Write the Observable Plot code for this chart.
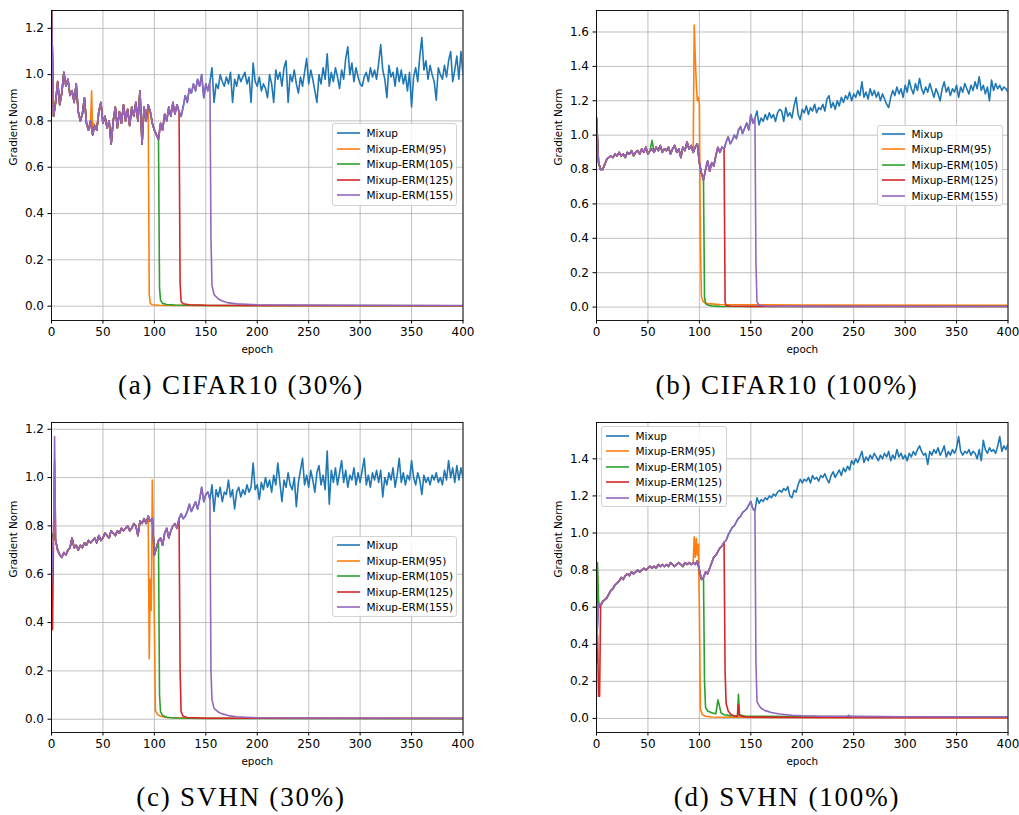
<!DOCTYPE html>
<html><head><meta charset="utf-8">
<script src="https://cdn.jsdelivr.net/npm/d3@7"></script>
<script src="https://cdn.jsdelivr.net/npm/@observablehq/plot@0.6"></script>
<style>
body{margin:0;background:#fff;}
#root{position:relative;width:1019px;height:815px;overflow:hidden;background:#fff;}
.panel{position:absolute;}
.legend{position:absolute;box-sizing:border-box;border:1px solid #d3d3d3;border-radius:3px;background:rgba(255,255,255,0.85);font-family:"DejaVu Sans",sans-serif;font-size:10.5px;color:#000;}
.sw{position:absolute;left:3.5px;width:23px;height:6px;overflow:visible;}
.lt{position:absolute;left:33.5px;line-height:12px;white-space:nowrap;}
.caption{position:absolute;font-family:"Liberation Serif",serif;font-size:27px;line-height:27px;text-align:center;letter-spacing:1.8px;white-space:nowrap;color:#000;}
</style>
</head><body><div id="root"></div>
<script>
const epochStep = 2;
const seriesNames = ["Mixup","Mixup-ERM(95)","Mixup-ERM(105)","Mixup-ERM(125)","Mixup-ERM(155)"];
const seriesColors = ["#1f77b4","#ff7f0e","#2ca02c","#d62728","#9467bd"];
const switchEpochs = [95,105,125,155];
const xTicks = [0,50,100,150,200,250,300,350,400];
const yTicksAC = [0,0.2,0.4,0.6,0.8,1.0,1.2];
const yTicksB = [0,0.2,0.4,0.6,0.8,1.0,1.2,1.4,1.6];
const yTicksD = [0,0.2,0.4,0.6,0.8,1.0,1.2,1.4];
const captions = ["(a) CIFAR10 (30%)","(b) CIFAR10 (100%)","(c) SVHN (30%)","(d) SVHN (100%)"];

// Mixup gradient norm, epochs 0,2,...,400
const mixupA = [1.30,0.82,0.88,0.97,0.87,0.92,1.01,0.95,0.98,0.91,
0.93,0.88,0.96,0.84,0.80,0.83,0.90,0.79,0.76,0.80,
0.74,0.78,0.76,0.84,0.88,0.79,0.82,0.77,0.80,0.70,
0.80,0.86,0.77,0.84,0.79,0.87,0.80,0.85,0.78,0.86,
0.82,0.88,0.80,0.93,0.70,0.86,0.80,0.87,0.84,0.79,
0.76,0.74,0.72,0.79,0.76,0.83,0.80,0.86,0.82,0.88,
0.83,0.87,0.84,0.82,0.86,0.91,0.88,0.94,0.92,0.96,
0.93,0.98,0.95,1.00,0.90,0.96,0.93,0.97,1.03,0.88,
0.96,0.94,1.00,0.97,0.95,0.99,0.96,1.01,0.88,0.98,
0.95,1.00,0.97,0.99,1.01,0.96,0.99,0.88,1.05,0.97,
0.95,0.99,0.93,0.96,0.94,0.90,1.00,0.96,0.88,1.02,
0.98,1.01,0.95,1.03,1.06,0.88,1.00,0.97,1.02,0.96,
0.92,0.99,0.95,1.01,1.07,0.96,1.02,0.98,0.93,0.88,
1.00,0.96,1.03,0.98,1.09,0.95,1.01,0.97,1.03,0.99,
0.94,1.02,0.98,1.07,1.12,1.00,1.05,0.97,1.03,0.99,
0.96,0.95,0.99,1.01,0.97,1.03,0.99,1.02,0.98,1.05,
1.13,1.02,0.98,0.90,1.04,0.99,1.01,0.95,1.03,0.97,
1.02,0.96,1.00,0.93,1.01,0.86,0.99,1.03,0.97,1.08,
1.16,1.02,1.06,0.98,1.04,1.00,0.97,0.89,1.03,1.00,
0.98,1.04,0.99,1.06,1.10,0.97,1.02,1.08,0.98,1.10,
1.00];
const mixupB = [1.10,0.84,0.80,0.80,0.83,0.86,0.87,0.88,0.87,0.89,
0.88,0.90,0.88,0.89,0.87,0.90,0.89,0.91,0.88,0.90,
0.91,0.89,0.92,0.90,0.93,0.89,0.91,0.92,0.90,0.93,
0.91,0.94,0.90,0.92,0.91,0.93,0.89,0.92,0.94,0.90,
0.92,0.87,0.93,0.91,0.96,0.92,0.94,0.90,0.93,0.95,
0.84,0.78,0.74,0.80,0.85,0.79,0.84,0.82,0.88,0.93,
0.90,0.93,0.92,0.96,0.99,0.95,0.97,1.00,0.98,1.03,
1.05,1.01,1.04,1.07,1.03,1.12,1.07,1.10,1.14,1.06,
1.10,1.08,1.12,1.09,1.13,1.10,1.12,1.08,1.13,1.15,
1.14,1.08,1.16,1.11,1.13,1.10,1.17,1.22,1.12,1.09,
1.15,1.13,1.17,1.12,1.16,1.14,1.18,1.13,1.16,1.15,
1.18,1.14,1.21,1.23,1.16,1.19,1.15,1.20,1.17,1.22,
1.19,1.23,1.21,1.25,1.20,1.24,1.22,1.26,1.23,1.31,
1.22,1.25,1.21,1.27,1.23,1.26,1.22,1.25,1.20,1.24,
1.21,1.18,1.16,1.22,1.26,1.23,1.28,1.24,1.27,1.22,
1.29,1.25,1.32,1.27,1.24,1.30,1.26,1.33,1.27,1.24,
1.28,1.25,1.30,1.26,1.22,1.27,1.24,1.20,1.27,1.31,
1.25,1.28,1.23,1.27,1.25,1.29,1.22,1.28,1.25,1.30,
1.27,1.24,1.29,1.26,1.31,1.27,1.34,1.26,1.29,1.24,
1.28,1.20,1.32,1.26,1.30,1.27,1.29,1.26,1.28,1.27,
1.25];
const mixupC = [0.75,0.77,0.74,0.70,0.68,0.67,0.69,0.68,0.70,0.71,
0.75,0.71,0.72,0.70,0.72,0.71,0.73,0.72,0.74,0.73,
0.74,0.75,0.73,0.76,0.74,0.75,0.77,0.76,0.75,0.78,
0.77,0.76,0.78,0.77,0.79,0.78,0.79,0.80,0.78,0.79,
0.81,0.80,0.76,0.82,0.81,0.83,0.81,0.84,0.82,0.83,
0.68,0.71,0.74,0.75,0.72,0.77,0.79,0.75,0.78,0.80,
0.81,0.79,0.83,0.85,0.83,0.84,0.86,0.89,0.86,0.88,
0.90,0.87,0.91,0.96,0.90,0.93,0.94,0.91,0.97,0.86,
0.95,0.92,0.96,0.90,0.94,0.93,0.99,0.92,0.95,0.87,
0.94,0.96,0.92,0.95,0.93,0.97,0.94,0.96,1.06,0.95,
0.97,0.91,0.98,0.95,1.00,0.96,0.99,0.94,1.01,0.97,
1.06,0.98,0.90,0.99,0.96,1.02,0.97,0.95,1.00,0.88,
0.98,1.03,1.08,0.97,1.01,0.96,1.03,0.99,0.94,1.02,
1.05,0.97,1.01,0.95,1.11,0.89,1.03,0.98,1.04,0.97,
1.02,1.07,0.98,1.03,0.96,1.01,0.99,1.04,0.97,1.02,
0.98,1.03,1.08,0.97,1.01,0.96,1.02,0.99,1.03,0.98,
1.03,0.92,1.00,0.97,1.02,0.99,1.04,0.96,1.01,1.08,
0.98,1.02,0.97,1.01,0.99,1.07,1.00,0.97,1.02,0.99,
0.93,1.01,0.98,1.00,0.97,1.01,0.99,1.02,0.98,1.00,
0.97,1.03,0.99,1.07,1.00,1.04,0.98,1.05,0.99,1.04,
1.00];
const mixupD = [0.40,0.62,0.61,0.63,0.64,0.65,0.67,0.69,0.70,0.72,
0.73,0.74,0.76,0.75,0.77,0.78,0.77,0.79,0.78,0.79,
0.80,0.79,0.80,0.81,0.80,0.81,0.82,0.81,0.82,0.81,
0.83,0.82,0.83,0.82,0.83,0.82,0.84,0.83,0.82,0.83,
0.84,0.83,0.82,0.84,0.83,0.84,0.83,0.84,0.83,0.85,
0.80,0.75,0.76,0.79,0.78,0.81,0.84,0.87,0.88,0.90,
0.92,0.93,0.95,0.96,0.99,1.01,1.03,1.04,1.06,1.08,
1.09,1.11,1.12,1.13,1.15,1.17,1.13,1.12,1.19,1.16,
1.18,1.17,1.19,1.18,1.20,1.19,1.21,1.20,1.22,1.23,
1.22,1.24,1.23,1.25,1.20,1.19,1.23,1.22,1.26,1.29,
1.27,1.29,1.28,1.30,1.27,1.31,1.29,1.30,1.28,1.31,
1.30,1.32,1.29,1.27,1.31,1.33,1.30,1.32,1.34,1.31,
1.35,1.33,1.36,1.34,1.39,1.37,1.40,1.38,1.41,1.44,
1.38,1.41,1.39,1.42,1.40,1.43,1.41,1.39,1.42,1.40,
1.43,1.41,1.44,1.39,1.42,1.40,1.45,1.41,1.43,1.40,
1.42,1.39,1.43,1.41,1.44,1.42,1.45,1.47,1.44,1.42,
1.43,1.37,1.44,1.42,1.45,1.43,1.46,1.42,1.44,1.47,
1.41,1.44,1.42,1.45,1.43,1.46,1.52,1.44,1.42,1.44,
1.43,1.45,1.42,1.44,1.43,1.40,1.45,1.39,1.50,1.45,
1.43,1.46,1.44,1.45,1.43,1.47,1.52,1.44,1.47,1.45,
1.48];

// Mixup-ERM runs: own [epoch, value] points (deviations from Mixup and everything after the switch)
const ermA95 = [[39,0.93],[41,0.79],[95,0.05],[96,0.012],[98,0.006],[104,0.004],[130,0.003],[200,0.002],[400,0.002]];
const ermA105 = [[105,0.08],[106,0.025],[108,0.012],[112,0.007],[120,0.005],[150,0.003],[400,0.002]];
const ermA125 = [[125,0.10],[126,0.02],[128,0.01],[134,0.006],[150,0.004],[200,0.003],[400,0.002]];
const ermA155 = [[155,0.30],[156,0.09],[158,0.05],[162,0.032],[166,0.022],[172,0.014],[180,0.01],[190,0.008],[200,0.006],[230,0.005],[300,0.004],[400,0.003]];

const ermB95 = [[95,1.64],[96,1.45],[97,1.30],[98,1.20],[99,1.22],[100,1.18],[101,0.35],[102,0.06],[104,0.03],[108,0.02],[120,0.015],[200,0.012],[400,0.011]];
const ermB105 = [[54,0.97],[105,0.06],[106,0.02],[108,0.012],[112,0.007],[120,0.004],[200,0.003],[400,0.003]];
const ermB125 = [[125,0.03],[126,0.01],[130,0.006],[150,0.004],[400,0.003]];
const ermB155 = [[155,0.25],[156,0.03],[158,0.012],[165,0.006],[200,0.004],[400,0.003]];

const ermC95 = [[95,0.25],[96,0.58],[97,0.45],[98,0.99],[99,0.75],[100,0.40],[101,0.035],[103,0.02],[106,0.012],[112,0.007],[130,0.005],[200,0.004],[400,0.004]];
const ermC105 = [[105,0.10],[106,0.03],[108,0.015],[112,0.008],[120,0.005],[150,0.003],[400,0.002]];
const ermC125 = [[1,0.37],[3,1.07],[125,0.20],[126,0.03],[128,0.012],[132,0.007],[150,0.004],[400,0.003]];
const ermC155 = [[0,0.55],[3,1.17],[155,0.20],[156,0.08],[158,0.045],[162,0.03],[166,0.022],[172,0.015],[180,0.01],[190,0.008],[200,0.006],[250,0.005],[400,0.004]];

const ermD95 = [[0,0.35],[1,0.77],[3,0.62],[95,0.98],[96,0.87],[97,0.97],[98,0.88],[99,0.94],[100,0.60],[101,0.05],[103,0.02],[106,0.012],[112,0.008],[130,0.006],[200,0.005],[400,0.004]];
const ermD105 = [[0,0.42],[1,0.84],[3,0.60],[105,0.20],[106,0.06],[108,0.04],[112,0.03],[116,0.025],[118,0.10],[119,0.08],[121,0.03],[124,0.02],[130,0.015],[137,0.012],[138,0.13],[139,0.02],[145,0.012],[200,0.01],[400,0.008]];
const ermD125 = [[0,0.30],[1,0.45],[2,0.12],[3,0.12],[125,0.25],[126,0.08],[128,0.04],[131,0.02],[135,0.012],[137,0.01],[138,0.075],[139,0.015],[145,0.008],[200,0.005],[400,0.004]];
const ermD155 = [[0,0.38],[155,0.30],[156,0.09],[158,0.07],[160,0.055],[164,0.042],[170,0.032],[178,0.024],[190,0.017],[200,0.014],[220,0.012],[244,0.012],[245,0.017],[247,0.011],[300,0.009],[400,0.008]];

const panels = [
  {mixup: mixupA, erm: [ermA95,ermA105,ermA125,ermA155], yDomain: [-0.062,1.277], yTicks: yTicksAC,
   left: 0, top: 0, width: 500, legend: {left: 332, top: 123, w: 125, h: 83, r0: 10}, cap: {left: 0, w: 482, top: 372}},
  {mixup: mixupB, erm: [ermB95,ermB105,ermB125,ermB155], yDomain: [-0.078,1.725], yTicks: yTicksB,
   left: 545, top: 0, width: 474, legend: {left: 877, top: 125, w: 126, h: 81, r0: 8.5}, cap: {left: 545, w: 484, top: 372}},
  {mixup: mixupC, erm: [ermC95,ermC105,ermC125,ermC155], yDomain: [-0.055,1.228], yTicks: yTicksAC,
   left: 0, top: 412, width: 500, legend: {left: 332, top: 536, w: 125, h: 81, r0: 9}, cap: {left: 0, w: 482, top: 784}},
  {mixup: mixupD, erm: [ermD95,ermD105,ermD125,ermD155], yDomain: [-0.076,1.596], yTicks: yTicksD,
   left: 545, top: 412, width: 474, legend: {left: 601, top: 426, w: 126, h: 81, r0: 9.7}, cap: {left: 545, w: 484, top: 784}}
];

const root = document.getElementById("root");
const svgNS = "http://www.w3.org/2000/svg";

panels.forEach((p, idx) => {
  const mix = p.mixup.map((v, i) => ({epoch: i * epochStep, value: v}));
  const series = [mix];
  p.erm.forEach((pts, k) => {
    const sw = switchEpochs[k];
    const own = new Set(pts.map(q => q[0]));
    const pre = mix.filter(d => d.epoch < sw && !own.has(d.epoch));
    const all = pre.concat(pts.map(([e, v]) => ({epoch: e, value: v}))).sort((a, b) => a.epoch - b.epoch);
    series.push(all);
  });
  const grid = {stroke: "#b0b0b0", strokeOpacity: 1, strokeWidth: 0.8};
  const chart = Plot.plot({
    width: p.width, height: 360,
    marginLeft: 51, marginTop: 10, marginBottom: 40, marginRight: p.width - 51 - 411.5,
    x: {domain: [0, 400]},
    y: {domain: p.yDomain},
    style: {fontFamily: "DejaVu Sans, sans-serif", fontSize: "12px", color: "#000", background: "transparent", overflow: "visible"},
    marks: [
      Plot.gridX(xTicks, grid),
      Plot.gridY(p.yTicks, grid),
      ...series.map((s, i) => Plot.line(s, {x: "epoch", y: "value", stroke: seriesColors[i], strokeWidth: 1.6, clip: true})),
      Plot.frame({stroke: "#000", strokeWidth: 0.9}),
      Plot.axisX(xTicks, {tickSize: 3.5, tickPadding: 3.5, label: null, fontSize: 12}),
      Plot.axisY(p.yTicks, {tickSize: 3.5, tickPadding: 4, label: null, fontSize: 12, tickFormat: d => d.toFixed(1)}),
      Plot.text(["epoch"], {frameAnchor: "bottom", dy: 29, text: d => d, fontSize: 10.4, lineAnchor: "middle"}),
      Plot.text(["Gradient Norm"], {frameAnchor: "left", dx: -38, rotate: -90, text: d => d, fontSize: 10.4, lineAnchor: "middle"})
    ]
  });
  chart.classList.add("panel");
  chart.style.left = p.left + "px";
  chart.style.top = p.top + "px";
  root.appendChild(chart);

  const lg = document.createElement("div");
  lg.className = "legend";
  Object.assign(lg.style, {left: p.legend.left + "px", top: p.legend.top + "px", width: p.legend.w + "px", height: p.legend.h + "px"});
  seriesNames.forEach((name, i) => {
    const cy = p.legend.r0 + 15.5 * i;
    const sw = document.createElementNS(svgNS, "svg");
    sw.setAttribute("class", "sw");
    sw.setAttribute("width", "23");
    sw.setAttribute("height", "6");
    sw.style.top = (cy - 3 - 1) + "px";
    const ln = document.createElementNS(svgNS, "line");
    ln.setAttribute("x1", "0"); ln.setAttribute("x2", "23");
    ln.setAttribute("y1", "3"); ln.setAttribute("y2", "3");
    ln.setAttribute("stroke", seriesColors[i]);
    ln.setAttribute("stroke-width", "1.6");
    sw.appendChild(ln);
    const t = document.createElement("div");
    t.className = "lt";
    t.style.top = (cy - 6 - 1) + "px";
    t.textContent = name;
    lg.appendChild(sw); lg.appendChild(t);
  });
  root.appendChild(lg);

  const cap = document.createElement("div");
  cap.className = "caption";
  Object.assign(cap.style, {left: p.cap.left + "px", width: p.cap.w + "px", top: p.cap.top + "px"});
  cap.textContent = captions[idx];
  root.appendChild(cap);
});
</script>
</body></html>
